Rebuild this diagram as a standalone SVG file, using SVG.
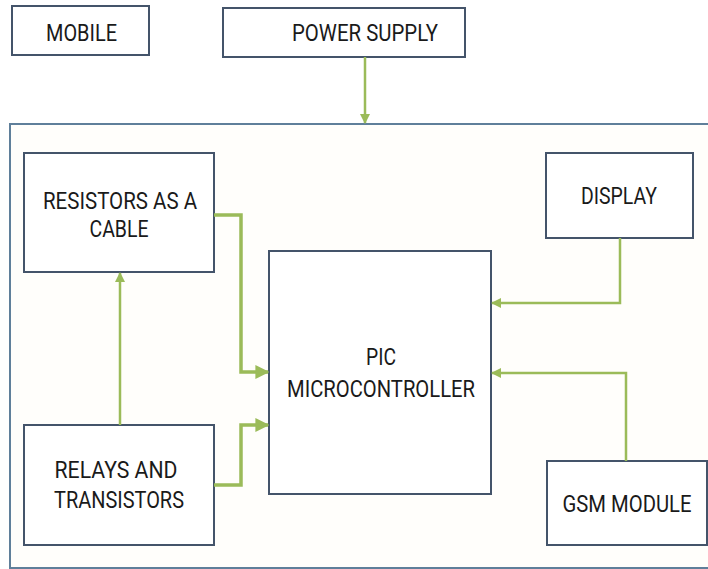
<svg xmlns="http://www.w3.org/2000/svg" width="708" height="569" viewBox="0 0 708 569">
<style>
.box{fill:#fff;stroke:#44546a;stroke-width:2}
.outer{fill:#fffefb;stroke:#5f7f9a;stroke-width:2}
.lbl{font-family:Roboto,"Liberation Sans",sans-serif;font-size:23px;fill:#1a1a1a;text-anchor:middle}
.wire{fill:none;stroke:#9bbb59;stroke-width:2.5}
.thick{stroke-width:3.5}
</style>
<defs>
<marker id="ah" viewBox="0 0 10 10" refX="9" refY="5" markerWidth="4" markerHeight="4" orient="auto" markerUnits="strokeWidth">
<path d="M0,0 L10,5 L0,10 z" fill="#9bbb59"/>
</marker>
</defs>
<rect width="708" height="569" fill="#fff"/>
<g id="container"><rect class="outer" x="10" y="124" width="720" height="444"/></g>
<g id="mobile"><rect class="box" x="12" y="6" width="137" height="49"/><text class="lbl" x="81.5" y="41" textLength="71" lengthAdjust="spacingAndGlyphs">MOBILE</text></g>
<g id="power"><rect class="box" x="223" y="8" width="242" height="49"/><text class="lbl" x="365" y="41" textLength="146" lengthAdjust="spacingAndGlyphs">POWER SUPPLY</text></g>
<g id="resistors"><rect class="box" x="24" y="153" width="190" height="119"/><text class="lbl" x="120" y="209" textLength="154" lengthAdjust="spacingAndGlyphs">RESISTORS AS A</text><text class="lbl" x="119" y="237" textLength="59" lengthAdjust="spacingAndGlyphs">CABLE</text></g>
<g id="display"><rect class="box" x="546" y="153" width="147" height="85"/><text class="lbl" x="619" y="204" textLength="76" lengthAdjust="spacingAndGlyphs">DISPLAY</text></g>
<g id="pic"><rect class="box" x="269" y="251" width="222" height="243"/><text class="lbl" x="381" y="365" textLength="30" lengthAdjust="spacingAndGlyphs">PIC</text><text class="lbl" x="381" y="397" textLength="188" lengthAdjust="spacingAndGlyphs">MICROCONTROLLER</text></g>
<g id="relays"><rect class="box" x="24" y="425" width="190" height="120"/><text class="lbl" x="116" y="478" textLength="123" lengthAdjust="spacingAndGlyphs">RELAYS AND</text><text class="lbl" x="119" y="508" textLength="130" lengthAdjust="spacingAndGlyphs">TRANSISTORS</text></g>
<g id="gsm"><rect class="box" x="547" y="461" width="160" height="84"/><text class="lbl" x="627" y="512" textLength="129" lengthAdjust="spacingAndGlyphs">GSM MODULE</text></g>
<g id="connectors">
<path class="wire" d="M365,57 V123" marker-end="url(#ah)"/>
<path class="wire thick" d="M214,215 H241 V372 H268" marker-end="url(#ah)"/>
<path class="wire thick" d="M214,485 H241 V425 H268" marker-end="url(#ah)"/>
<path class="wire" d="M120,425 V273" marker-end="url(#ah)"/>
<path class="wire" d="M620,238 V303 H492" marker-end="url(#ah)"/>
<path class="wire" d="M626,461 V373 H492" marker-end="url(#ah)"/>
</g>
</svg>
